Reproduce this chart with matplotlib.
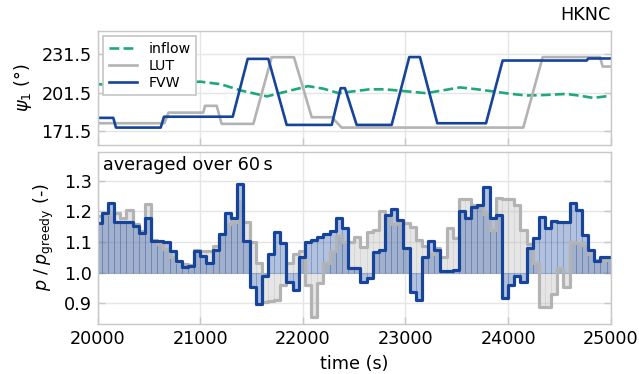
import numpy as np
import matplotlib.pyplot as plt

# yaw set points (breakpoints in time, deg)
inflow_t = [20000, 20250, 20500, 20750, 21000, 21200, 21400, 21650, 21850, 22050,
            22200, 22350, 22500, 22650, 22800, 23000, 23200, 23350, 23530, 23700,
            23860, 24020, 24180, 24340, 24570, 24700, 24830, 25000]
inflow_psi = [208.0, 207.0, 206.5, 209.0, 210.0, 208.0, 203.0, 198.5, 202.5, 206.5,
              204.5, 201.0, 202.5, 204.0, 204.0, 202.5, 201.0, 203.0, 205.5, 204.0,
              202.3, 200.5, 199.2, 199.5, 200.4, 199.0, 197.3, 199.0]

lut_t = [20000, 20650, 20690, 21029, 21046, 21160, 21208, 21517, 21696, 21913,
         22086, 22281, 22378, 24148, 24337, 24896, 24922, 25000]
lut_psi = [177.5, 177.5, 185.8, 185.8, 191.1, 191.1, 177.0, 177.0, 229.1, 229.1,
           182.2, 182.2, 174.1, 174.1, 229.2, 229.2, 221.8, 221.8]

fvw_t = [20000, 20152, 20178, 20614, 20646, 21316, 21462, 21663, 21842, 22281,
         22368, 22410, 22524, 22865, 23037, 23141, 23310, 23785, 23947, 24766,
         24782, 25000]
fvw_psi = [181.7, 181.7, 174.1, 174.1, 182.6, 182.6, 227.8, 227.8, 176.2, 176.2,
           204.9, 204.9, 176.2, 176.2, 229.2, 229.2, 177.5, 177.5, 226.5, 226.5,
           228.1, 228.1]

# power ratio, 60 s window averages
t_start = 19980
window = 60
p_lut = [1.185, 1.19, 1.19, 1.194, 1.18, 1.203, 1.158, 1.135, 1.224, 1.107,
         1.092, 1.078, 1.05, 1.036, 1.028, 1.025, 1.075, 1.07, 1.07, 1.087,
         1.125, 1.16, 1.167, 1.235, 1.165, 1.10, 1.03, 0.905, 0.908, 0.91,
         0.96, 1.03, 1.06, 1.07, 0.96, 0.855, 0.965, 1.03, 1.07, 1.12,
         1.10, 1.10, 1.118, 1.083, 1.134, 1.139, 1.2, 1.185, 1.16, 1.167,
         1.161, 1.15, 1.107, 1.087, 1.06, 1.08, 1.052, 1.145, 1.112, 1.24,
         1.24, 1.22, 1.216, 1.19, 1.14, 1.245, 1.24, 1.24, 1.22, 1.14,
         1.095, 1.03, 0.888, 0.888, 0.93, 1.014, 0.954, 1.10, 1.096, 1.09,
         1.06, 1.04, 1.04, 1.045]
p_fvw = [1.163, 1.194, 1.229, 1.167, 1.167, 1.167, 1.154, 1.131, 1.179, 1.104,
         1.104, 1.101, 1.071, 1.038, 1.02, 1.021, 1.072, 1.055, 1.031, 1.074,
         1.126, 1.195, 1.177, 1.290, 1.104, 0.954, 0.898, 0.99, 1.062, 1.134,
         1.096, 0.971, 0.943, 1.052, 1.101, 1.107, 1.118, 1.125, 1.136, 1.180,
         1.145, 1.014, 1.014, 0.968, 0.983, 1.068, 1.075, 1.188, 1.208, 1.173,
         1.080, 0.937, 0.910, 1.052, 1.102, 1.075, 1.007, 1.004, 1.008, 1.200,
         1.180, 1.216, 1.222, 1.280, 1.177, 1.187, 0.917, 0.960, 0.990, 0.970,
         1.080, 1.112, 1.183, 1.145, 1.170, 1.164, 1.166, 1.226, 1.205, 1.124,
         1.075, 1.038, 1.050, 1.050]

c_inflow = '#1fa77d'
c_lut = '#b3b3b3'
c_fvw = '#17449b'
c_frame = '#c8c8c8'

plt.rcParams['font.size'] = 10

fig = plt.figure(figsize=(639 / 127, 374 / 127), dpi=127)
ax1 = fig.add_axes([0.1529, 0.6123, 0.8028, 0.3056])
ax2 = fig.add_axes([0.1529, 0.135, 0.8028, 0.4594], sharex=ax1)

ax1.plot(inflow_t, inflow_psi, '--', color=c_inflow, lw=1.5, label='inflow')
ax1.plot(lut_t, lut_psi, color=c_lut, lw=1.5, label='LUT')
ax1.plot(fvw_t, fvw_psi, color=c_fvw, lw=1.5, label='FVW')
ax1.set_ylim(160.5, 249.8)
ax1.set_yticks([171.5, 201.5, 231.5])
ax1.set_ylabel(r'$\psi_1$ (°)')
ax1.set_title('HKNC', loc='right', fontsize=10)
ax1.legend(loc='upper left', fontsize=8, fancybox=False, framealpha=1,
           edgecolor=c_frame, borderaxespad=0.4, handlelength=2.0,
           labelspacing=0.2)
plt.setp(ax1.get_xticklabels(), visible=False)

t_lut = t_start + window * np.arange(len(p_lut))
t_fvw = t_start + window * np.arange(len(p_fvw))
for t, p, c in [(t_lut, p_lut, c_lut), (t_fvw, p_fvw, c_fvw)]:
    p = np.array(p)
    ax2.bar(t, p - 1, bottom=1, width=window, align='edge', color=c,
            alpha=0.33, edgecolor=c, linewidth=0.3)
    ax2.step(np.append(t, t[-1] + window), np.append(p, p[-1]),
             where='post', color=c, lw=1.8)

ax2.set_xlim(20000, 25000)
ax2.set_ylim(0.834, 1.395)
ax2.set_yticks([0.9, 1.0, 1.1, 1.2, 1.3])
ax2.set_xticks([20000, 21000, 22000, 23000, 24000, 25000])
ax2.set_xlabel('time (s)')
ax2.set_ylabel(r'$p\;/\;p_\mathrm{greedy}$ (-)')
ax2.text(0.01, 0.975, 'averaged over 60\u2009s', transform=ax2.transAxes,
         ha='left', va='top', fontsize=10)

for ax in [ax1, ax2]:
    ax.grid(color='#e6e6e6', lw=0.8)
    ax.set_axisbelow(True)
    for s in ax.spines.values():
        s.set_color(c_frame)
    ax.tick_params(direction='in', color=c_frame, length=4, right=True)

fig.savefig('out.png', dpi=127)
